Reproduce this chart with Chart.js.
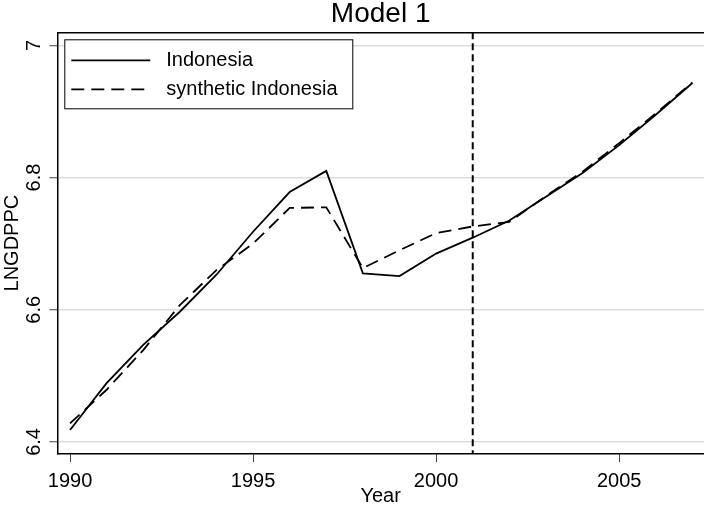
<!DOCTYPE html>
<html>
<head>
<meta charset="utf-8">
<script src="https://cdn.jsdelivr.net/npm/chart.js@4.4.1/dist/chart.umd.min.js"></script>
<style>
  html, body { margin: 0; padding: 0; background: #fff; overflow: hidden; }
  #wrap { width: 704px; height: 508px; }
</style>
</head>
<body>
<div id="wrap"><canvas id="c" width="704" height="508"></canvas></div>
<script>
// Log GDP per capita, Indonesia vs. its synthetic control
const years = [1990, 1991, 1992, 1993, 1994, 1995, 1996, 1997, 1998,
               1999, 2000, 2001, 2002, 2003, 2004, 2005, 2006, 2007];
const indonesia = [6.418, 6.489, 6.547, 6.597, 6.653, 6.718, 6.778, 6.810, 6.655,
                   6.651, 6.685, 6.709, 6.735, 6.771, 6.807, 6.849, 6.895, 6.943];
const syntheticIndonesia = [6.428, 6.479, 6.539, 6.607, 6.660, 6.700, 6.754, 6.755, 6.663,
                            6.690, 6.716, 6.726, 6.733, 6.772, 6.809, 6.852, 6.897, 6.944];
const seriesNames = ['Indonesia', 'synthetic Indonesia'];
const xTicks = [1990, 1995, 2000, 2005];
const yTicks = [6.4, 6.6, 6.8, 7];
const treatmentYear = 2001;

const FONT = '"Liberation Sans", Arial, Helvetica, sans-serif';
Chart.defaults.font.family = FONT;
Chart.defaults.color = '#000';

const toPoints = vals => years.map((yr, i) => ({ x: yr, y: vals[i] }));

// Vertical reference line, top frame line and in-plot legend
const decorations = {
  id: 'decorations',
  beforeDatasetsDraw(chart) {
    const { ctx, chartArea: a, scales: { x } } = chart;
    ctx.save();
    // top edge of the plot region
    ctx.strokeStyle = '#000';
    ctx.lineWidth = 1.5;
    ctx.beginPath();
    ctx.moveTo(a.left, a.top + 0.5);
    ctx.lineTo(a.right, a.top + 0.5);
    ctx.stroke();
    // treatment year marker
    const px = x.getPixelForValue(treatmentYear);
    ctx.setLineDash([7, 4]);
    ctx.lineWidth = 2;
    ctx.beginPath();
    ctx.moveTo(px, a.top);
    ctx.lineTo(px, a.bottom);
    ctx.stroke();
    ctx.restore();
  },
  afterDatasetsDraw(chart) {
    const { ctx, chartArea: a } = chart;
    const bx = a.left + 7, by = a.top + 7, bw = 288, bh = 69;
    ctx.save();
    ctx.fillStyle = '#fff';
    ctx.fillRect(bx, by, bw, bh);
    ctx.strokeStyle = '#000';
    ctx.lineWidth = 1;
    ctx.strokeRect(bx + 0.5, by + 0.5, bw, bh);
    const rows = [by + 21, by + 50];
    chart.data.datasets.forEach((ds, i) => {
      const ry = rows[i];
      ctx.strokeStyle = ds.borderColor;
      ctx.lineWidth = ds.borderWidth;
      ctx.setLineDash(ds.borderDash || []);
      ctx.beginPath();
      ctx.moveTo(bx + 7, ry);
      ctx.lineTo(bx + 86, ry);
      ctx.stroke();
      ctx.setLineDash([]);
      ctx.fillStyle = '#000';
      ctx.font = '20px ' + FONT;
      ctx.textAlign = 'left';
      ctx.textBaseline = 'middle';
      ctx.fillText(ds.label, bx + 102, ry);
    });
    ctx.restore();
  }
};

new Chart(document.getElementById('c'), {
  type: 'line',
  data: {
    datasets: [
      {
        label: seriesNames[0],
        data: toPoints(indonesia),
        borderColor: '#000',
        borderWidth: 1.8,
        pointRadius: 0,
        tension: 0,
        fill: false
      },
      {
        label: seriesNames[1],
        data: toPoints(syntheticIndonesia),
        borderColor: '#000',
        borderWidth: 1.8,
        borderDash: [13, 7],
        pointRadius: 0,
        tension: 0,
        fill: false
      }
    ]
  },
  options: {
    responsive: false,
    animation: false,
    devicePixelRatio: 1,
    layout: { padding: 0 },
    plugins: {
      legend: { display: false },
      tooltip: { enabled: false },
      title: {
        display: true,
        text: 'Model 1',
        fullSize: false,
        color: '#000',
        font: { size: 28, weight: 'normal', lineHeight: 1 },
        padding: { top: 0, bottom: 4.3 }
      }
    },
    scales: {
      x: {
        type: 'linear',
        min: 1989.653,
        max: 2007.317,
        afterFit: s => { s.height = 54; },
        afterBuildTicks: s => { s.ticks = xTicks.map(v => ({ value: v })); },
        ticks: {
          includeBounds: false,
          autoSkip: false,
          maxRotation: 0,
          padding: 7,
          font: { size: 20 },
          color: '#000',
          callback: v => String(v)
        },
        grid: {
          drawOnChartArea: false,
          drawTicks: true,
          tickLength: 8,
          tickColor: '#444',
          tickWidth: 1
        },
        border: { display: true, color: '#000', width: 1.5 },
        title: {
          display: true,
          text: 'Year',
          color: '#000',
          font: { size: 20, lineHeight: 1.2 },
          padding: { top: 0, bottom: 0 }
        }
      },
      y: {
        type: 'linear',
        min: 6.3818,
        max: 7.0197,
        afterFit: s => { s.width = 57.3; },
        afterBuildTicks: s => { s.ticks = yTicks.map(v => ({ value: v })); },
        ticks: {
          includeBounds: false,
          minRotation: 90,
          maxRotation: 90,
          crossAlign: 'center',
          padding: 1,
          font: { size: 20 },
          color: '#000',
          callback: v => String(v)
        },
        grid: {
          color: '#dddddd',
          lineWidth: 1.5,
          drawTicks: true,
          tickLength: 8,
          tickColor: '#444',
          tickWidth: 1
        },
        border: { display: true, color: '#000', width: 1.5 },
        title: {
          display: true,
          text: 'LNGDPPC',
          color: '#000',
          font: { size: 20, lineHeight: 1.2 },
          padding: { top: 0, bottom: 0 }
        }
      }
    }
  },
  plugins: [decorations]
});
</script>
</body>
</html>
